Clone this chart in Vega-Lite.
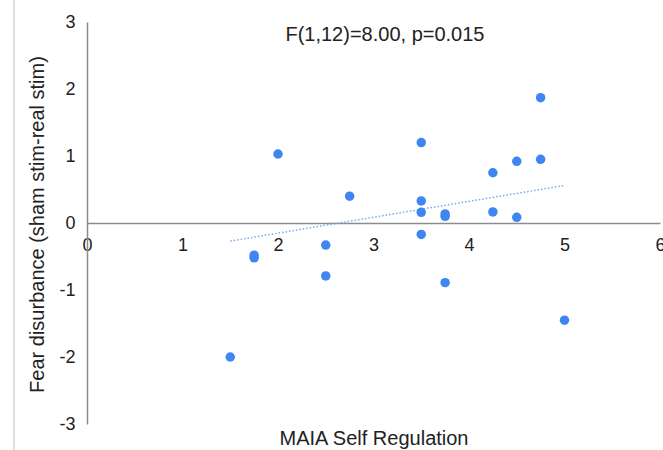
{
  "$schema": "https://vega.github.io/schema/vega-lite/v6.json",
  "width": 573,
  "height": 402,
  "autosize": {"type": "none"},
  "padding": {"left": 87, "top": 22, "right": 3, "bottom": 26},
  "background": "white",
  "config": {"view": {"stroke": null}, "font": "Liberation Sans"},
  "datasets": {
    "points": [
      {"x": 1.5, "y": -2.0},
      {"x": 1.75, "y": -0.48},
      {"x": 1.75, "y": -0.52},
      {"x": 2.5, "y": -0.33},
      {"x": 2.5, "y": -0.79},
      {"x": 3.5, "y": -0.17},
      {"x": 3.75, "y": -0.89},
      {"x": 5.0, "y": -1.45},
      {"x": 2.0, "y": 1.03},
      {"x": 2.75, "y": 0.4},
      {"x": 3.5, "y": 1.2},
      {"x": 3.5, "y": 0.33},
      {"x": 3.5, "y": 0.16},
      {"x": 3.75, "y": 0.135},
      {"x": 3.75, "y": 0.1},
      {"x": 4.25, "y": 0.75},
      {"x": 4.25, "y": 0.165},
      {"x": 4.5, "y": 0.92},
      {"x": 4.5, "y": 0.085},
      {"x": 4.75, "y": 1.87},
      {"x": 4.75, "y": 0.95}
    ],
    "trend": [
      {"x": 1.5, "y": -0.27},
      {"x": 5.0, "y": 0.56}
    ],
    "note": [
      {"label": "F(1,12)=8.00, p=0.015", "x": 3.12, "y": 2.81}
    ]
  },
  "layer": [
    {
      "data": {"name": "trend"},
      "mark": {"type": "line", "color": "#7aa7f2", "strokeWidth": 1.5, "strokeDash": [1.5, 2]},
      "encoding": {
        "x": {
          "field": "x", "type": "quantitative",
          "scale": {"domain": [0, 6], "nice": false, "zero": false},
          "axis": {
            "title": "MAIA Self Regulation",
            "offset": -201,
            "values": [0, 1, 2, 3, 4, 5, 6],
            "labelExpr": "toString(datum.value)",
            "ticks": false, "grid": false,
            "domainColor": "#8c8c8c", "domainWidth": 1.5,
            "labelFontSize": 18, "labelColor": "#222222", "labelPadding": 13,
            "labelFlush": false,
            "titleFontSize": 20, "titleFontWeight": "normal", "titleColor": "#222222",
            "titleY": 215, "titleBaseline": "middle"
          }
        },
        "y": {
          "field": "y", "type": "quantitative",
          "scale": {"domain": [-3, 3], "nice": false, "zero": false},
          "axis": {
            "title": "Fear disurbance (sham stim-real stim)",
            "values": [-3, -2, -1, 0, 1, 2, 3],
            "labelExpr": "toString(datum.value)",
            "ticks": false, "grid": false,
            "domainColor": "#8c8c8c", "domainWidth": 1.5,
            "labelFontSize": 18, "labelColor": "#222222", "labelPadding": 12,
            "labelFlush": false,
            "titleFontSize": 20, "titleFontWeight": "normal", "titleColor": "#222222",
            "titleX": -50, "titleY": 202, "titleBaseline": "middle", "titleAngle": -90, "titleAlign": "center"
          }
        }
      }
    },
    {
      "data": {"name": "trend"},
      "mark": {"type": "rule", "color": "#d6d6d6", "strokeWidth": 1},
      "encoding": {
        "x": {"datum": -0.764},
        "y": {"datum": 3.33},
        "y2": {"datum": -3.4}
      }
    },
    {
      "data": {"name": "points"},
      "mark": {"type": "circle", "size": 90, "opacity": 1, "color": "#3f86f0"},
      "encoding": {
        "x": {"field": "x", "type": "quantitative"},
        "y": {"field": "y", "type": "quantitative"}
      }
    },
    {
      "data": {"name": "note"},
      "mark": {"type": "text", "fontSize": 20, "color": "#222222", "align": "center", "baseline": "middle"},
      "encoding": {
        "x": {"field": "x", "type": "quantitative"},
        "y": {"field": "y", "type": "quantitative"},
        "text": {"field": "label"}
      }
    }
  ]
}
